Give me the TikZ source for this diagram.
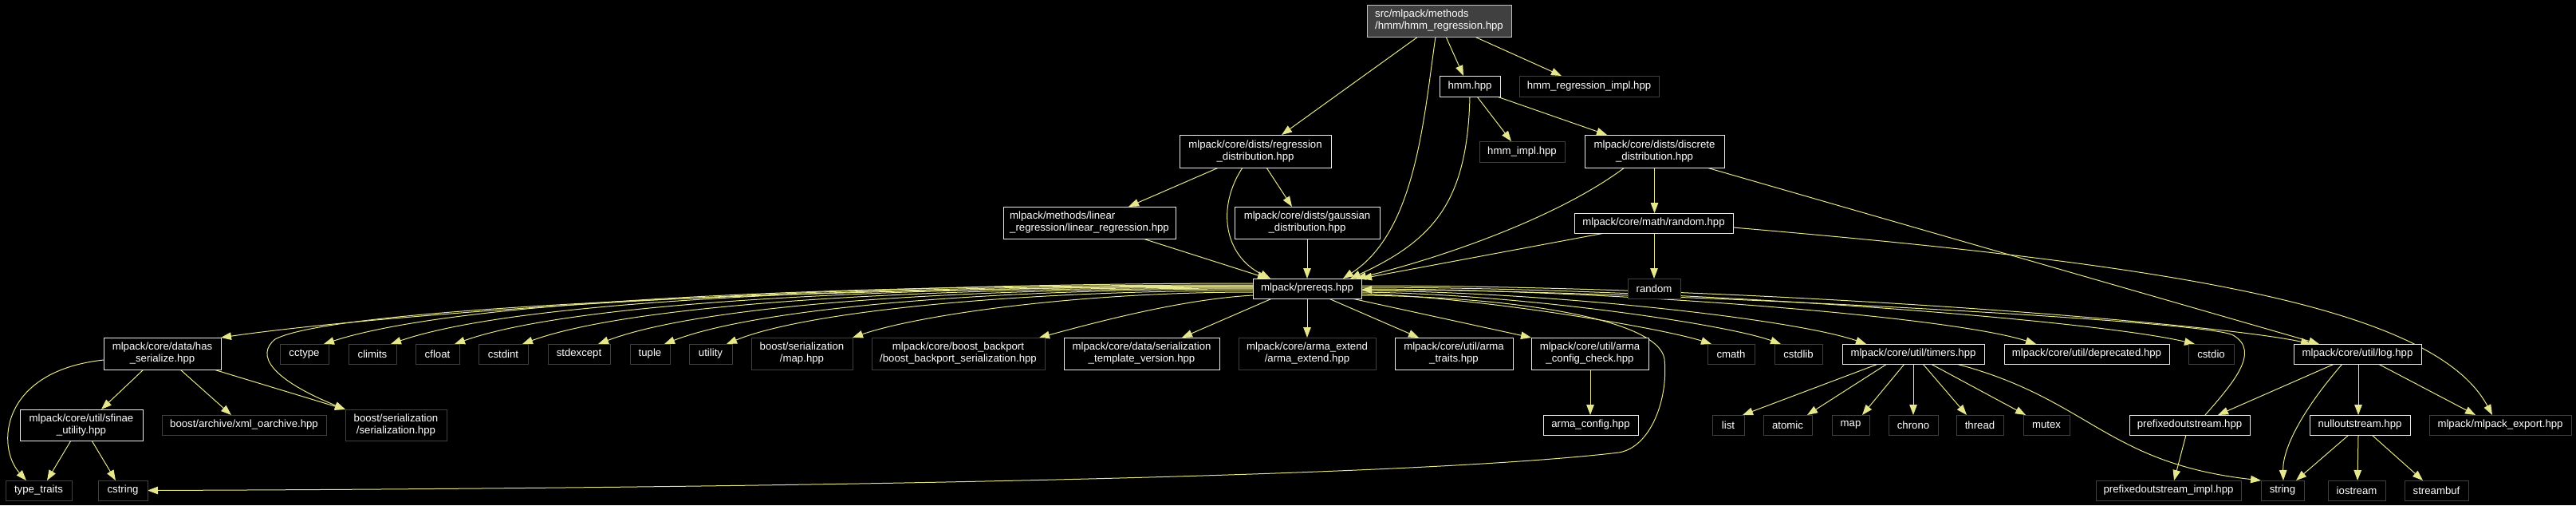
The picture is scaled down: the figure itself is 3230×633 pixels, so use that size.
\documentclass[tikz,border=0pt]{standalone}
\usepackage{fontspec}
\setmainfont{Liberation Sans}
\usetikzlibrary{arrows.meta}
\pgfdeclarelayer{bgl}
\pgfdeclarelayer{edgel}
\pgfsetlayers{bgl,edgel,main}
\definecolor{edgecol}{RGB}{230,230,140}
\definecolor{undocb}{RGB}{64,64,64}
\definecolor{docb}{RGB}{235,235,235}
\definecolor{rootfill}{RGB}{64,64,64}
\definecolor{rootb}{RGB}{191,191,191}
\newcommand\mknode[7]{\node[#1, minimum width=#5pt, minimum height=#6pt] (#2) at (#3,#4) {#7};}
\begin{document}
\begin{tikzpicture}[x=1pt,y=-1pt,
  box/.style={rectangle, inner sep=0pt, outer sep=0pt, fill=black, text=white, line width=1pt, align=center, font=\fontsize{13.2}{15}\selectfont},
  doc/.style={box, draw=docb},
  undoc/.style={box, draw=undocb},
  rootbox/.style={box, draw=rootb, fill=rootfill, align=left},
  edge/.style={draw=edgecol, line width=1pt, -{Triangle[length=13pt,width=9.5pt,fill=edgecol]}}]
\begin{pgfonlayer}{bgl}
\fill[black] (0,0) rectangle (3230,633);
\end{pgfonlayer}
\useasboundingbox (0,0) rectangle (3230,633);
% nodes
\mknode{rootbox}{root}{1804.5}{26}{181}{40}{src/mlpack/methods\\/hmm/hmm\_regression.hpp}
\mknode{doc}{hmm}{1843}{108}{76}{26}{hmm.hpp}
\mknode{undoc}{hmmri}{1992.5}{108}{175}{26}{hmm\_regression\_impl.hpp}
\mknode{doc}{regdist}{1574}{189.5}{190}{41}{mlpack/core/dists/regression\\\_distribution.hpp}
\mknode{undoc}{hmmimpl}{1908.5}{190}{107}{26}{hmm\_impl.hpp}
\mknode{doc}{discdist}{2074.5}{189.5}{175}{41}{mlpack/core/dists/discrete\\\_distribution.hpp}
\mknode{doc,align=left}{linreg}{1366}{279}{216}{40}{mlpack/methods/linear\\\_regression/linear\_regression.hpp}
\mknode{doc}{gauss}{1639}{279}{182}{40}{mlpack/core/dists/gaussian\\\_distribution.hpp}
\mknode{doc}{randomhpp}{2073.5}{279.5}{199}{25}{mlpack/core/math/random.hpp}
\mknode{doc}{prereqs}{1639}{361.5}{136}{25}{mlpack/prereqs.hpp}
\mknode{undoc}{random}{2074}{361.5}{66}{25}{random}
% row 3
\mknode{doc}{hasser}{203.5}{443}{147}{40}{mlpack/core/data/has\\\_serialize.hpp}
\mknode{undoc}{cctype}{381.5}{443.5}{61}{25}{cctype}
\mknode{undoc}{climits}{467}{443.5}{60}{25}{climits}
\mknode{undoc}{cfloat}{548.5}{443.5}{55}{25}{cfloat}
\mknode{undoc}{cstdint}{631}{443.5}{62}{25}{cstdint}
\mknode{undoc}{stdexcept}{726}{443.5}{78}{25}{stdexcept}
\mknode{undoc}{tuple}{815}{443.5}{50}{25}{tuple}
\mknode{undoc}{utility}{891}{443.5}{54}{25}{utility}
\mknode{undoc}{bsmap}{1005.5}{443}{127}{40}{boost/serialization\\/map.hpp}
\mknode{undoc}{backport}{1201.5}{443}{217}{40}{mlpack/core/boost\_backport\\/boost\_backport\_serialization.hpp}
\mknode{doc}{stv}{1431.5}{443}{195}{40}{mlpack/core/data/serialization\\\_template\_version.hpp}
\mknode{undoc}{armaext}{1639}{443}{172}{40}{mlpack/core/arma\_extend\\/arma\_extend.hpp}
\mknode{doc}{armatraits}{1823}{443}{148}{40}{mlpack/core/util/arma\\\_traits.hpp}
\mknode{doc}{armacc}{1993.5}{443}{147}{40}{mlpack/core/util/arma\\\_config\_check.hpp}
\mknode{undoc}{cmath}{2170.5}{443.5}{59}{25}{cmath}
\mknode{undoc}{cstdlib}{2255}{443.5}{60}{25}{cstdlib}
\mknode{doc}{timers}{2399}{443.5}{178}{25}{mlpack/core/util/timers.hpp}
\mknode{doc}{deprecated}{2616.5}{443.5}{207}{25}{mlpack/core/util/deprecated.hpp}
\mknode{undoc}{cstdio}{2772.5}{443.5}{57}{25}{cstdio}
\mknode{doc}{log}{2956}{443.5}{160}{25}{mlpack/core/util/log.hpp}
% row 4
\mknode{doc}{sfinae}{102}{532.5}{154}{39}{mlpack/core/util/sfinae\\\_utility.hpp}
\mknode{undoc}{xmlo}{306}{532.5}{206}{25}{boost/archive/xml\_oarchive.hpp}
\mknode{undoc}{bsser}{496.5}{532.5}{127}{39}{boost/serialization\\/serialization.hpp}
\mknode{doc}{armaconfig}{1994.5}{532.5}{119}{25}{arma\_config.hpp}
\mknode{undoc}{list}{2167}{532.5}{40}{25}{list}
\mknode{undoc}{atomic}{2241.5}{532.5}{61}{25}{atomic}
\mknode{undoc}{map}{2320.5}{532.5}{47}{25}{map}
\mknode{undoc}{chrono}{2399}{532.5}{62}{25}{chrono}
\mknode{undoc}{thread}{2482.5}{532.5}{59}{25}{thread}
\mknode{undoc}{mutex}{2566}{532.5}{58}{25}{mutex}
\mknode{doc}{prefixed}{2745.5}{532.5}{151}{25}{prefixedoutstream.hpp}
\mknode{doc}{nullout}{2959}{532.5}{126}{25}{nulloutstream.hpp}
\mknode{undoc}{export}{3135}{532.5}{178}{25}{mlpack/mlpack\_export.hpp}
% row 5
\mknode{undoc}{typetraits}{48.5}{614.5}{83}{25}{type\_traits}
\mknode{undoc}{cstring}{154}{614.5}{62}{25}{cstring}
\mknode{undoc}{prefimpl}{2719}{614.5}{182}{25}{prefixedoutstream\_impl.hpp}
\mknode{undoc}{string}{2862}{614.5}{54}{25}{string}
\mknode{undoc}{iostream}{2955}{614.5}{72}{25}{iostream}
\mknode{undoc}{streambuf}{3055}{614.5}{80}{25}{streambuf}
% edges
\begin{pgfonlayer}{edgel}
\draw[edge] (root.south -| 1778,0) -- (regdist.north -| 1607,0);
\draw[edge] (root.south -| 1800,0) .. controls (1785,150) and (1775,290) .. (prereqs.north -| 1684,0);
\draw[edge] (root.south -| 1813,0) -- (hmm.north -| 1835,0);
\draw[edge] (root.south -| 1849,0) -- (hmmri.north -| 1958,0);
\draw[edge] (hmm.south) .. controls (1840,250) and (1800,300) .. (prereqs.north -| 1693,0);
\draw[edge] (hmm.south -| 1852,0) -- (hmmimpl.north -| 1895,0);
\draw[edge] (hmm.south -| 1877,0) -- (discdist.north -| 2015,0);
\draw[edge] (regdist.south -| 1528,0) -- (linreg.north -| 1415,0);
\draw[edge] (regdist.south -| 1558,0) .. controls (1525,260) and (1535,320) .. (prereqs.north -| 1593,0);
\draw[edge] (regdist.south -| 1588,0) -- (gauss.north -| 1620,0);
\draw[edge] (linreg.south -| 1433,0) -- (prereqs.north -| 1590,0);
\draw[edge] (gauss.south) -- (prereqs.north);
\draw[edge] (discdist.south -| 2037,0) .. controls (1950,275) and (1800,325) .. (prereqs.north -| 1700,0);
\draw[edge] (discdist.south) -- (randomhpp.north -| 2074.5,0);
\draw[edge] (discdist.south -| 2140,0) -- (log.north -| 2908,0);
\draw[edge] (randomhpp.south -| 2012,0) -- (prereqs.north east);
\draw[edge] (randomhpp.south -| 2074,0) -- (random.north);
\draw[edge] (randomhpp.east |- 0,285) .. controls (2700,330) and (3050,380) .. (export.north -| 3125,0);
% prereqs left fan
\draw[edge] (prereqs.west |- 0,355) .. controls (990,355) and (470,395) .. (hasser.north east);
\draw[edge] (prereqs.west |- 0,357) .. controls (1050,357) and (580,375) .. (cctype.north -| 406,0);
\draw[edge] (prereqs.west |- 0,358) .. controls (1080,358) and (650,376) .. (climits.north -| 490,0);
\draw[edge] (prereqs.west |- 0,359) .. controls (1120,359) and (720,378) .. (cfloat.north -| 570,0);
\draw[edge] (prereqs.west |- 0,360) .. controls (1160,360) and (795,380) .. (cstdint.north -| 655,0);
\draw[edge] (prereqs.west |- 0,361) .. controls (1200,361) and (880,382) .. (stdexcept.north -| 750,0);
\draw[edge] (prereqs.west |- 0,362) .. controls (1240,362) and (950,386) .. (tuple.north -| 833,0);
\draw[edge] (prereqs.west |- 0,364) .. controls (1280,364) and (1010,390) .. (utility.north -| 911,0);
\draw[edge] (prereqs.west |- 0,366) .. controls (1350,366) and (1150,395) .. (bsmap.north -| 1069,0);
\draw[edge] (prereqs.west |- 0,370) .. controls (1480,375) and (1370,405) .. (backport.north -| 1303,0);
\draw[edge] (prereqs.south -| 1595,0) -- (stv.north -| 1482,0);
\draw[edge] (prereqs.west |- 0,358) .. controls (1000,362) and (420,385) .. (345,425) .. controls (320,445) and (340,475) .. (bsser.north west);
\draw[edge] (prereqs.east |- 0,370) .. controls (1900,372) and (2080,400) .. (2087,450) .. controls (2092,500) and (2070,560) .. (2030,567) .. controls (1750,600) and (900,612) .. (cstring.east);
% prereqs down / right fan
\draw[edge] (prereqs.south) -- (armaext.north);
\draw[edge] (prereqs.south -| 1666,0) -- (armatraits.north -| 1779,0);
\draw[edge] (prereqs.south -| 1695,0) -- (armacc.north west);
\draw[edge] (prereqs.east |- 0,368) .. controls (1850,372) and (2080,410) .. (cmath.north -| 2146,0);
\draw[edge] (prereqs.east |- 0,366) .. controls (1900,368) and (2160,405) .. (cstdlib.north -| 2233,0);
\draw[edge] (prereqs.east |- 0,364) .. controls (1950,366) and (2250,400) .. (timers.north -| 2340,0);
\draw[edge] (prereqs.east |- 0,362) .. controls (2000,362) and (2440,395) .. (deprecated.north -| 2553,0);
\draw[edge] (prereqs.east |- 0,360) .. controls (2100,360) and (2620,400) .. (cstdio.north -| 2752,0);
\draw[edge] (prereqs.east |- 0,358) .. controls (2200,358) and (2780,405) .. (log.north -| 2898,0);
\draw[edge] (prefixed.north -| 2765,0) .. controls (2800,480) and (2835,440) .. (2800,420) .. controls (2765,400) and (2000,362) .. (prereqs.east |- 0,363);
% row 3 -> row 4
\draw[edge] (hasser.south -| 180,0) -- (sfinae.north -| 127,0);
\draw[edge] (hasser.south -| 226,0) -- (xmlo.north -| 290,0);
\draw[edge] (hasser.south -| 268,0) -- (bsser.north west);
\draw[edge] (hasser.west |- 0,451) .. controls (0,465) and (-5,560) .. (typetraits.north -| 33,0);
\draw[edge] (sfinae.south -| 89,0) -- (typetraits.north -| 59,0);
\draw[edge] (sfinae.south -| 115,0) -- (cstring.north -| 145,0);
\draw[edge] (armacc.south -| 1994,0) -- (armaconfig.north -| 1994,0);
\draw[edge] (timers.south -| 2355,0) -- (list.north -| 2185,0);
\draw[edge] (timers.south -| 2366,0) -- (atomic.north -| 2266,0);
\draw[edge] (timers.south -| 2388,0) -- (map.north -| 2335,0);
\draw[edge] (timers.south) -- (chrono.north);
\draw[edge] (timers.south -| 2411,0) -- (thread.north -| 2466,0);
\draw[edge] (timers.south -| 2421,0) -- (mutex.north -| 2540,0);
\draw[edge] (timers.south -| 2453,0) .. controls (2620,500) and (2640,580) .. (string.north west);
\draw[edge] (log.south -| 2927,0) -- (prefixed.north -| 2781,0);
\draw[edge] (log.south -| 2937,0) .. controls (2890,510) and (2862,560) .. (string.north -| 2863,0);
\draw[edge] (log.south -| 2957,0) -- (nullout.north -| 2957,0);
\draw[edge] (log.south -| 2982,0) -- (export.north -| 3104,0);
\draw[edge] (prefixed.south -| 2741,0) -- (prefimpl.north -| 2726,0);
\draw[edge] (nullout.south -| 2945,0) -- (string.north -| 2879,0);
\draw[edge] (nullout.south -| 2957,0) -- (iostream.north -| 2956,0);
\draw[edge] (nullout.south -| 2974,0) -- (streambuf.north -| 3038,0);
\end{pgfonlayer}
\end{tikzpicture}
\end{document}
